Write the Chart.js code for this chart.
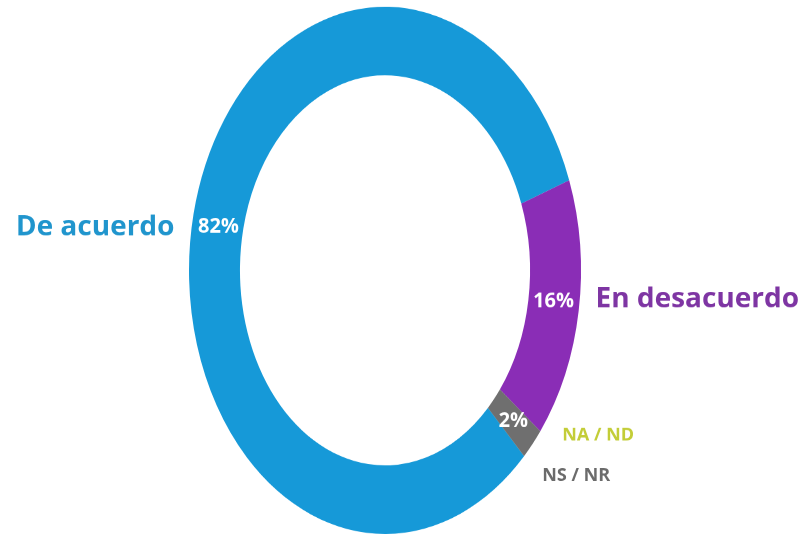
<!DOCTYPE html>
<html>
<head>
<meta charset="utf-8">
<script src="https://cdn.jsdelivr.net/npm/chart.js@4.4.1/dist/chart.umd.min.js"></script>
<style>
  html, body { margin: 0; padding: 0; background: #ffffff; width: 809px; height: 534px; }
  #wrap { width: 809px; height: 397px; transform: scaleY(1.345); transform-origin: 0 0; }
</style>
</head>
<body>
<div id="wrap"><canvas id="encuesta"></canvas></div>
<script>
// datos
const categories = ['De acuerdo', 'En desacuerdo', 'NA / ND', 'NS / NR'];
const values = [82, 16, 0, 2];
const percentLabels = ['82%', '16%', '', '2%'];

// estilo
const STRETCH = 1.345;
const SLICE_COLORS = ['#1699d8', '#8a2db6', '#c5cf3c', '#6f6f6f'];
const NAME_COLORS = ['#2095cd', '#7e35a3', '#c3cd38', '#6b6b6b'];
// offsets (page px) from the slice label to the category name, plus text align
const NAME_OFFSETS = [
    { dx: -44, dy: 0, align: 'right' },
    { dx: 42, dy: -2, align: 'left' },
    { dx: 49, dy: 14, align: 'left' },
    { dx: 29, dy: 54, align: 'left' }
];
// small nudges (page px) for the percent labels
const PCT_NUDGE = [6, -4, 0, 0];

function drawText(ctx, text, x, y, font, color, align) {
    ctx.save();
    ctx.translate(x, y);
    ctx.scale(1, 1 / STRETCH);
    ctx.font = font;
    ctx.fillStyle = color;
    ctx.textAlign = align;
    ctx.textBaseline = 'middle';
    ctx.fillText(text, 0, 0);
    ctx.restore();
}

const labelPlugin = {
    id: 'labels',
    afterDatasetsDraw(chart) {
        const ctx = chart.ctx;
        const meta = chart.getDatasetMeta(0);
        // a zero-size slice borrows the next slice as anchor
        meta.data.forEach((arc, i) => {
            const anchorArc = values[i] ? arc : meta.data[i + 1];
            const c = anchorArc.getCenterPoint();
            const p = { x: c.x, y: c.y + (PCT_NUDGE[i] || 0) / STRETCH };
            if (values[i]) {
                drawText(ctx, percentLabels[i], p.x, p.y, 'bold 20px "Open Sans"', '#ffffff', 'center');
            }
            const off = NAME_OFFSETS[i];
            const size = i < 2 ? 28 : 18;
            drawText(ctx, categories[i], p.x + off.dx, p.y + off.dy / STRETCH,
                'bold ' + size + 'px "Open Sans"', NAME_COLORS[i], off.align);
        });
    }
};

new Chart(document.getElementById('encuesta'), {
    type: 'doughnut',
    data: {
        labels: categories,
        datasets: [{
            data: values,
            backgroundColor: SLICE_COLORS,
            borderWidth: 0
        }]
    },
    options: {
        responsive: true,
        maintainAspectRatio: false,
        devicePixelRatio: 2,
        animation: false,
        cutout: '74%',
        rotation: 70 - values[0] * 3.6,
        layout: { padding: { top: 5, left: 0, right: 39, bottom: 0 } },
        plugins: {
            legend: { display: false },
            tooltip: { enabled: false }
        }
    },
    plugins: [labelPlugin]
});
</script>
</body>
</html>
